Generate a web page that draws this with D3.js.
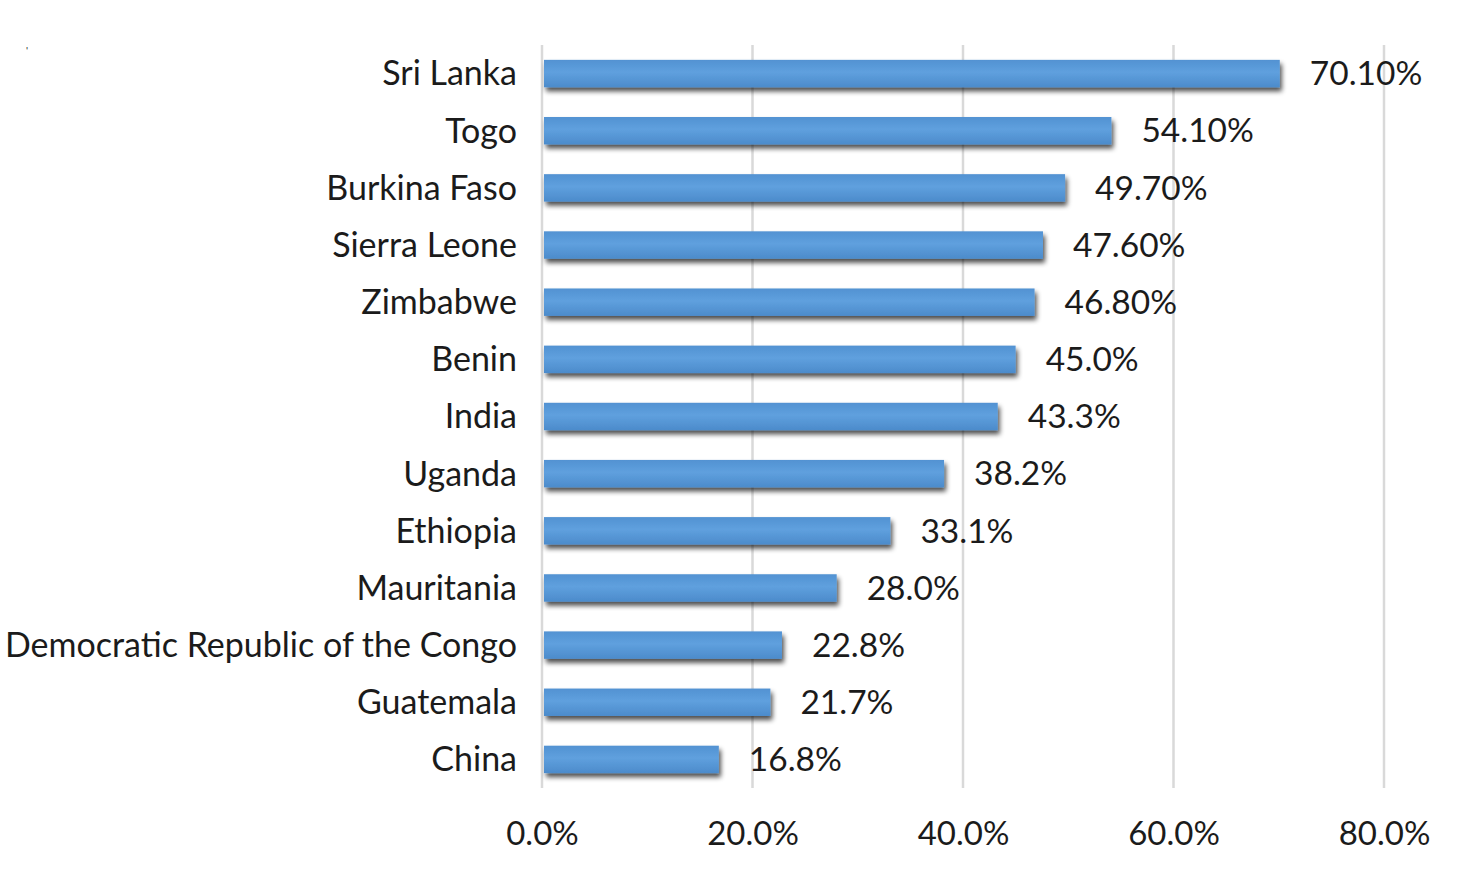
<!DOCTYPE html>
<html>
<head>
<meta charset="utf-8">
<script src="https://cdn.jsdelivr.net/npm/d3@7"></script>
<style>
  body { margin: 0; background: #fff; }
  text { font-family: Lato, "Open Sans", sans-serif; fill: #1b1b1b; }
</style>
</head>
<body>
<svg id="chart"></svg>
<script>
// data
var countries = ["Sri Lanka", "Togo", "Burkina Faso", "Sierra Leone", "Zimbabwe", "Benin", "India",
                 "Uganda", "Ethiopia", "Mauritania", "Democratic Republic of the Congo", "Guatemala", "China"];
var values = [70.1, 54.1, 49.7, 47.6, 46.8, 45.0, 43.3, 38.2, 33.1, 28.0, 22.8, 21.7, 16.8];
var valueLabels = ["70.10%", "54.10%", "49.70%", "47.60%", "46.80%", "45.0%", "43.3%",
                   "38.2%", "33.1%", "28.0%", "22.8%", "21.7%", "16.8%"];
var ticks = [0, 20, 40, 60, 80];

var W = 1478, H = 870;
var mLeft = 542, mRight = 1384, mTop = 45, mBottom = 788;

var svg = d3.select("#chart").attr("width", W).attr("height", H);

var defs = svg.append("defs");
var grad = defs.append("linearGradient").attr("id", "barGrad")
    .attr("x1", 0).attr("y1", 0).attr("x2", 0).attr("y2", 1);
grad.append("stop").attr("offset", "0%").attr("stop-color", "#5292d2");
grad.append("stop").attr("offset", "45%").attr("stop-color", "#5fa0de");
grad.append("stop").attr("offset", "100%").attr("stop-color", "#4c8bcb");

var shadow = defs.append("filter").attr("id", "shadow")
    .attr("x", "-5%").attr("y", "-30%").attr("width", "115%").attr("height", "190%");
shadow.append("feGaussianBlur").attr("in", "SourceAlpha").attr("stdDeviation", 2.8);
shadow.append("feOffset").attr("dx", 2).attr("dy", 4).attr("result", "blur");
shadow.append("feComponentTransfer").append("feFuncA").attr("type", "linear").attr("slope", 0.7);
var merge = shadow.append("feMerge");
merge.append("feMergeNode");
merge.append("feMergeNode").attr("in", "SourceGraphic");

var x = d3.scaleLinear().domain([0, 80]).range([mLeft, mRight]);
var y = d3.scaleBand().domain(countries).range([mTop, mBottom]).paddingInner(0.52).paddingOuter(0.26);

// grid
svg.append("g").selectAll("line").data(ticks).join("line")
    .attr("x1", d => x(d)).attr("x2", d => x(d))
    .attr("y1", mTop).attr("y2", mBottom)
    .attr("stroke", "#d9d9d9").attr("stroke-width", 2.5);

// bars
svg.append("g").selectAll("rect").data(values).join("rect")
    .attr("x", x(0) + 2)
    .attr("y", (d, i) => y(countries[i]))
    .attr("width", d => x(d) - x(0) - 2)
    .attr("height", y.bandwidth())
    .attr("fill", "url(#barGrad)")
    .attr("filter", "url(#shadow)");

// value labels
svg.append("g").selectAll("text").data(values).join("text")
    .attr("x", d => x(d) + 30)
    .attr("y", (d, i) => y(countries[i]) + y.bandwidth() / 2)
    .attr("dy", "0.35em")
    .attr("font-size", 33.5)
    .text((d, i) => valueLabels[i]);

// category labels
svg.append("g").selectAll("text").data(countries).join("text")
    .attr("x", 517)
    .attr("y", d => y(d) + y.bandwidth() / 2)
    .attr("dy", "0.35em")
    .attr("text-anchor", "end")
    .attr("font-size", 34)
    .text(d => d);

// x axis
var xAxis = d3.axisBottom(x).tickValues(ticks).tickSize(0).tickFormat(d => d.toFixed(1) + "%");
var ax = svg.append("g").attr("transform", "translate(0," + 819 + ")").call(xAxis);
ax.select(".domain").remove();
ax.selectAll("text").attr("font-size", 33).attr("fill", "#1b1b1b")
    .style("font-family", 'Lato, "Open Sans", sans-serif');

// stray mark at top-left
svg.append("text").attr("x", 26).attr("y", 54).attr("font-size", 10).text("'");
</script>
</body>
</html>
